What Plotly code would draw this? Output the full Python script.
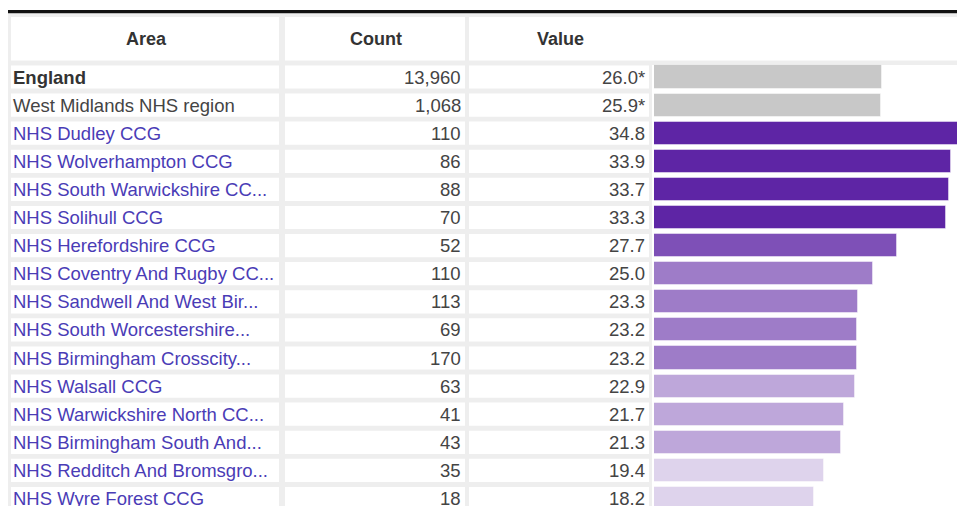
import plotly.graph_objects as go

# ---------------- data ----------------
areas = [
    "England",
    "West Midlands NHS region",
    "NHS Dudley CCG",
    "NHS Wolverhampton CCG",
    "NHS South Warwickshire CC...",
    "NHS Solihull CCG",
    "NHS Herefordshire CCG",
    "NHS Coventry And Rugby CC...",
    "NHS Sandwell And West Bir...",
    "NHS South Worcestershire...",
    "NHS Birmingham Crosscity...",
    "NHS Walsall CCG",
    "NHS Warwickshire North CC...",
    "NHS Birmingham South And...",
    "NHS Redditch And Bromsgro...",
    "NHS Wyre Forest CCG",
]
counts = ["13,960", "1,068", "110", "86", "88", "70", "52", "110", "113",
          "69", "170", "63", "41", "43", "35", "18"]
values = [26.0, 25.9, 34.8, 33.9, 33.7, 33.3, 27.7, 25.0, 23.3,
          23.2, 23.2, 22.9, 21.7, 21.3, 19.4, 18.2]
value_labels = ["26.0*", "25.9*", "34.8", "33.9", "33.7", "33.3", "27.7", "25.0",
                "23.3", "23.2", "23.2", "22.9", "21.7", "21.3", "19.4", "18.2"]
# quintile group per row (0 = comparator grey, 1 = darkest ... 5 = lightest)
groups = [0, 0, 1, 1, 1, 1, 2, 3, 3, 3, 3, 4, 4, 4, 5, 5]
headers = ["Area", "Count", "Value"]

# ---------------- styling ----------------
palette = {0: "#c8c8c8", 1: "#5e25a5", 2: "#7e50b7", 3: "#9e7cc8",
           4: "#bea7da", 5: "#ded3ec"}
GREY = "#eeeeee"
LINK = "#4a3cb6"
TXT = "#444444"
FONT = "Liberation Sans, Arial, sans-serif"
FS = 18.5

SW, SH = 965, 506          # screen size
OFF = 8                    # page body margin
W, H = SW - OFF, SH - OFF  # figure size
ROW0, PITCH = 77.0, 28.1   # screen-pixel centre of first row, row pitch


def ypx(p):
    return (p - ROW0) / PITCH


rows = list(range(len(areas)))
bar_colors = [palette[g] for g in groups]

fig = go.Figure()
fig.add_trace(go.Bar(
    x=values, y=rows, orientation="h",
    marker=dict(color=bar_colors, line=dict(color="rgba(255,255,255,0.45)", width=1)),
    width=0.82, xaxis="x2", yaxis="y", hoverinfo="skip", showlegend=False,
))
# invisible trace to register the full-width decoration axis
fig.add_trace(go.Scatter(x=[OFF], y=[0], xaxis="x", yaxis="y", mode="markers",
                         marker=dict(opacity=0), hoverinfo="skip", showlegend=False))

shapes = []


def rect(x0, x1, y0, y1, color):
    shapes.append(dict(type="rect", xref="x", yref="y", x0=x0, x1=x1,
                       y0=ypx(y0), y1=ypx(y1), fillcolor=color,
                       line=dict(width=0), layer="below"))


# black top rule
rect(8, SW + 5, 10, 13.5, "#111111")
# grey background of header band and table body
rect(8, SW + 5, 13.5, 65, GREY)
rect(8, 652, 65, SH + 10, GREY)
# header cells
rect(11, 279, 17, 60.5, "white")
rect(285, 465, 17, 60.5, "white")
rect(469, SW + 5, 17, 60.5, "white")
# body cells
half = 11.6 / PITCH
for i in rows:
    for (a, b) in [(11, 279), (285, 465), (469, 649)]:
        shapes.append(dict(type="rect", xref="x", yref="y", x0=a, x1=b,
                           y0=i - half, y1=i + half, fillcolor="white",
                           line=dict(width=0), layer="below"))

annotations = []
hy = ypx(39)
for text, xc in zip(headers, [146, 376, 560]):
    annotations.append(dict(x=xc, y=hy, xref="x", yref="y", text="<b>%s</b>" % text,
                            showarrow=False, xanchor="center", yanchor="middle",
                            font=dict(family=FONT, size=FS - 0.5, color="#333333"),
                            borderpad=0))
for i in rows:
    if i == 0:
        txt, col = "<b>%s</b>" % areas[i], "#333333"
    elif i == 1:
        txt, col = areas[i], TXT
    else:
        txt, col = areas[i], LINK
    annotations.append(dict(x=12, y=i, xref="x", yref="y", text=txt, showarrow=False,
                            xanchor="left", yanchor="middle", borderpad=0,
                            font=dict(family=FONT, size=FS, color=col)))
    annotations.append(dict(x=462, y=i, xref="x", yref="y", text=counts[i], showarrow=False,
                            xanchor="right", yanchor="middle", borderpad=0,
                            font=dict(family=FONT, size=FS, color=TXT)))
    annotations.append(dict(x=646, y=i, xref="x", yref="y", text=value_labels[i],
                            showarrow=False, xanchor="right", yanchor="middle", borderpad=0,
                            font=dict(family=FONT, size=FS, color=TXT)))

BAR0 = 654                    # screen x of value 0
scale = (959 - BAR0) / 34.8   # px per unit
fig.update_layout(
    width=W, height=H,
    margin=dict(l=0, r=0, t=0, b=0, pad=0),
    paper_bgcolor="white", plot_bgcolor="rgba(0,0,0,0)",
    xaxis=dict(domain=[0, 1], range=[OFF, SW], visible=False, fixedrange=True),
    xaxis2=dict(domain=[(BAR0 - OFF) / W, 1], range=[0, (SW - BAR0) / scale],
                visible=False, anchor="y", fixedrange=True),
    yaxis=dict(range=[ypx(SH), ypx(OFF)], visible=False, fixedrange=True),
    shapes=shapes, annotations=annotations, bargap=0,
)

fig.write_html("out.html")
